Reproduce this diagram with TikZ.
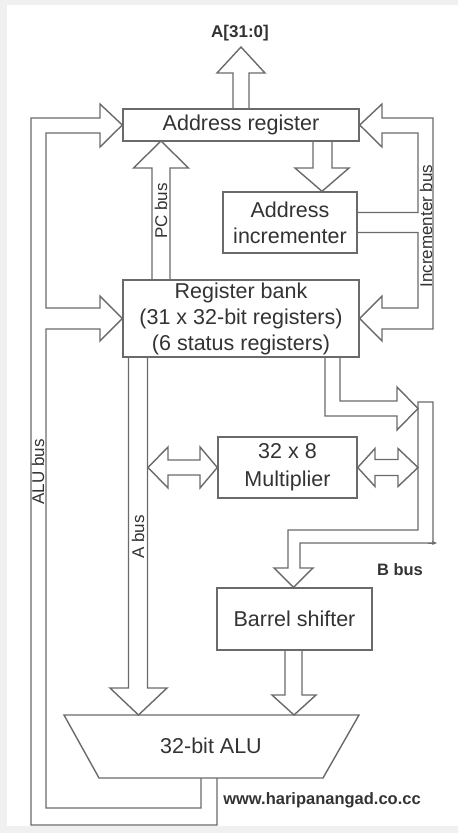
\documentclass[tikz,border=0pt]{standalone}
\usepackage{fontspec}
\setmainfont{Liberation Sans}
\usetikzlibrary{calc,arrows.meta}
\definecolor{ln}{HTML}{6A6A6A}
\definecolor{tx}{HTML}{333333}
\begin{document}
\begin{tikzpicture}[x=1pt,y=-1pt,
  box/.style={draw=ln,line width=1.4pt,inner sep=0pt,text=tx,
    font=\fontsize{21.5}{26}\selectfont,align=center},
  bus/.style={draw=ln,line width=1.4pt,line join=miter},
  lbl/.style={text=tx,font=\fontsize{17}{17}\selectfont,inner sep=0pt,rotate=90},
  blbl/.style={text=tx,font=\fontsize{16.5}{17}\selectfont\bfseries,inner sep=0pt}]
\fill[gray!12] (0,0) rectangle (458,833);
\fill[white] (7,5) rectangle (458,826);
\useasboundingbox (0,0) rectangle (458,833);

% blocks
\node[box,minimum width=236pt,minimum height=32pt] (addr) at (241,125) {Address register};
\node[box,minimum width=134pt,minimum height=61pt] (inc) at (290,222.5) {Address\\incrementer};
\node[box,minimum width=236pt,minimum height=77pt] (bank) at (241,318.5) {Register bank\\(31 x 32-bit registers)\\(6 status registers)};
\node[box,minimum width=139pt,minimum height=61pt] (mult) at (287.5,467.5) {32 x 8\\[2pt]Multiplier};
\node[box,minimum width=155pt,minimum height=62pt] (shift) at (294.5,619) {Barrel shifter};
\node[text=tx,font=\fontsize{21.5}{26}\selectfont,inner sep=0pt] (alu) at (211,746) {32-bit ALU};
\draw[bus] (64,715) -- (359,715) -- (323,778) -- (99,778) -- cycle;

% address out
\draw[bus] (233,109) -- (233,73) -- (217,73) -- (241,47) -- (265,73) -- (249,73) -- (249,109);
\node[blbl,font=\fontsize{17}{17}\selectfont\bfseries] (aout) at (240,33) {A[31:0]};

% address register -> incrementer
\draw[bus] (313,141) -- (313,168) -- (295,168) -- (inc.north -| 322,0) -- (349,168) -- (332,168) -- (332,141);

% PC bus
\draw[bus] (152,280) -- (152,168) -- (133.5,168) -- (161,141) -- (188.5,168) -- (170,168) -- (170,280);
\node[lbl] (pcl) at (161,211) {PC bus};

% ALU bus
\draw[bus] (217,778) -- (217,825) -- (31,825) -- (31,118) -- (100,118) -- (100,104) -- (addr.west)
  -- (100,147) -- (100,133) -- (46,133) -- (46,308) -- (100,308) -- (100,296) -- (bank.west)
  -- (100,341) -- (100,329) -- (46,329) -- (46,808) -- (201,808) -- (201,778);
\node[lbl] (alul) at (38,472) {ALU bus};

% incrementer bus
\draw[bus] (357,212.5) -- (418,212.5) -- (418,133) -- (382,133) -- (382,147) -- (addr.east)
  -- (382,104) -- (382,118) -- (433,118) -- (433,329) -- (382,329) -- (382,341) -- (bank.east)
  -- (382,296) -- (382,308) -- (418,308) -- (418,232.5) -- (357,232.5);
\node[lbl] (incl) at (426,226) {Incrementer bus};

% A bus
\draw[bus] (128.5,357) -- (128.5,688) -- (110,688) -- (138.5,715) -- (167,688) -- (147.5,688) -- (147.5,357);
\node[lbl] (abl) at (138,537) {A bus};

% multiplier double arrows
\draw[bus] (148,467.5) -- (168,447) -- (168,460) -- (200,460) -- (200,447) -- (mult.west)
  -- (200,488) -- (200,475) -- (168,475) -- (168,488) -- cycle;
\draw[bus] (mult.east) -- (375,448.5) -- (375,459.5) -- (398,459.5) -- (398,448.5) -- (418,467.5)
  -- (398,486.5) -- (398,475.5) -- (375,475.5) -- (375,486.5) -- cycle;

% B bus
\draw[bus] (340,357) -- (340,401) -- (397,401) -- (397,387) -- (418,408.5) -- (397,430) -- (397,416) -- (325,416) -- (325,357);
\draw[bus] (418,402) -- (433,402) -- (433,543) -- (300,543) -- (300,568) -- (313,568) -- (shift.north -| 293.5,0)
  -- (274,568) -- (288,568) -- (288,530) -- (418,530) -- cycle;
\draw[ln,line width=1pt,-{Stealth[length=5pt,width=4pt]}] (428,543) -- (437,543);
\node[blbl] (bbl) at (400,570) {B bus};

% barrel shifter -> ALU
\draw[bus] (285,650) -- (285,695) -- (272,695) -- (294,715) -- (316,695) -- (302,695) -- (302,650);

\node[blbl] (web) at (322,800) {www.haripanangad.co.cc};
\end{tikzpicture}
\end{document}
